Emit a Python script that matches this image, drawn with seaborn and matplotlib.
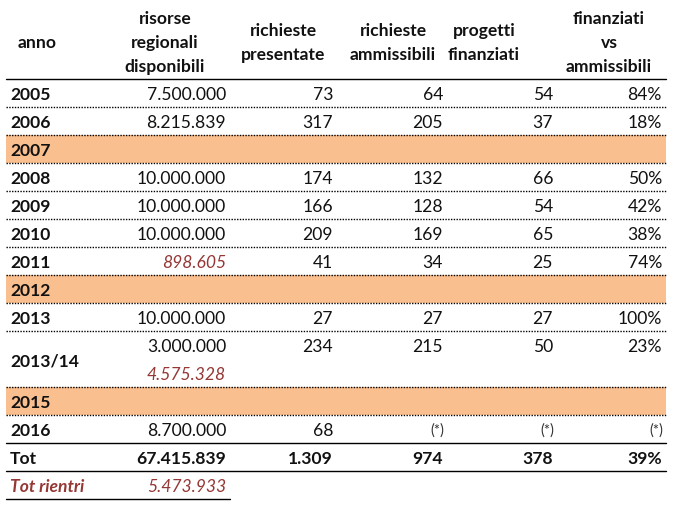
import matplotlib
matplotlib.use("Agg")
import matplotlib.pyplot as plt
import seaborn as sns
import numpy as np
from matplotlib.colors import ListedColormap

anni = ["2005", "2006", "2007", "2008", "2009", "2010", "2011", "2012",
        "2013", "2013/14", "2015", "2016"]
chiusi = [False, False, True, False, False, False, False, True,
          False, False, True, False]
risorse = [7500000, 8215839, None, 10000000, 10000000, 10000000, None, None,
           10000000, 3000000, None, 8700000]
rientri = [None, None, None, None, None, None, 898605, None,
           None, 4575328, None, None]
presentate = [73, 317, None, 174, 166, 209, 41, None, 27, 234, None, 68]
ammissibili = [64, 205, None, 132, 128, 169, 34, None, 27, 215, None, "(*)"]
finanziati = [54, 37, None, 66, 54, 65, 25, None, 27, 50, None, "(*)"]
perc = [84, 18, None, 50, 42, 38, 74, None, 100, 23, None, "(*)"]
altezza = [1, 1, 1, 1, 1, 1, 1, 1, 1, 2, 1, 1]

tot = [67415839, 1309, 974, 378, 39]
tot_rientri = 5473933

intestazioni = ["anno", "risorse\nregionali\ndisponibili", "richieste\npresentate",
                "richieste\nammissibili", "progetti\nfinanziati",
                "finanziati\nvs\nammissibili"]

ARANCIO = "#F9BF8F"
ROSSO = "#953735"
NERO = "#111111"
FS = 12.6


def fmt(v):
    return f"{v:,}".replace(",", ".")


sns.set_theme(style="white")
plt.rcParams["font.family"] = ["Lato", "DejaVu Sans"]

W, H = 674, 505
fig = plt.figure(figsize=(W / 100, H / 100), dpi=100)

# table geometry (pixels)
x0, x1 = 6, 666
top = 79
rh = 28
n_units = sum(altezza) + 2

# background bands for years without call (seaborn heatmap)
band = []
for c, h in zip(chiusi, altezza):
    band += [1 if c else 0] * h
band += [0, 0]
band = np.array(band).reshape(-1, 1)
bg = fig.add_axes([x0 / W, 1 - (top + n_units * rh) / H, (x1 - x0) / W, n_units * rh / H])
sns.heatmap(band, mask=band == 0, cmap=ListedColormap([ARANCIO]), cbar=False,
            xticklabels=False, yticklabels=False, ax=bg)
bg.axis("off")

ax = fig.add_axes([0, 0, 1, 1], facecolor="none")
ax.set_xlim(0, W)
ax.set_ylim(H, 0)
ax.axis("off")

# header
hx = [37, 165, 283, 393, 484, 609]
for x, t in zip(hx, intestazioni):
    ax.text(x, 43, t, ha="center", va="center", fontsize=FS, fontweight="bold",
            linespacing=1.62, color=NERO)
ax.plot([x0, x1], [top, top], color="black", lw=1)

col_r = [226, 333, 443, 553, 662]
dy = 2.5
y = top
for i, anno in enumerate(anni):
    h = altezza[i] * rh
    yc = y + h / 2 + dy
    ya = y + rh / 2 + dy
    ax.text(10, yc, anno, ha="left", va="center", fontsize=FS, fontweight="bold",
            color=NERO)
    if risorse[i] is not None:
        ax.text(col_r[0], ya, fmt(risorse[i]), ha="right", va="center", fontsize=FS,
                color=NERO)
    if rientri[i] is not None:
        yr = ya if risorse[i] is None else ya + rh
        ax.text(col_r[0], yr, fmt(rientri[i]), ha="right", va="center", fontsize=FS,
                style="italic", color=ROSSO)
    for j, serie in enumerate([presentate, ammissibili, finanziati, perc]):
        v = serie[i]
        if v is None:
            continue
        if v == "(*)":
            ax.text(col_r[j + 1] + 1, ya - 1, v, ha="right", va="center", fontsize=10.5,
                    color="#333333")
        else:
            s = f"{v}%" if j == 3 else fmt(v)
            ax.text(col_r[j + 1], ya, s, ha="right", va="center", fontsize=FS,
                    color=NERO)
    y += h
    if i < len(anni) - 1:
        ax.plot([x0, x1], [y, y], color="black", lw=1, ls=(0, (1, 1)))

# totals
ax.plot([x0, x1], [y, y], color="black", lw=1)
yc = y + rh / 2 + dy
ax.text(10, yc, "Tot", ha="left", va="center", fontsize=FS, fontweight="bold",
        color=NERO)
for j, v in enumerate(tot):
    s = f"{v}%" if j == 4 else fmt(v)
    ax.text(col_r[j], yc, s, ha="right", va="center", fontsize=FS, fontweight="bold",
            color=NERO)
y += rh
ax.plot([x0, x1], [y, y], color="black", lw=1)
yc = y + rh / 2 + dy
ax.text(10, yc, "Tot rientri", ha="left", va="center", fontsize=FS, fontweight="bold",
        style="italic", color=ROSSO)
ax.text(col_r[0], yc, fmt(tot_rientri), ha="right", va="center", fontsize=FS,
        style="italic", color=ROSSO)
y += rh
ax.plot([x0, 230], [y, y], color="black", lw=1)

fig.savefig("out.png", dpi=100)
plt.close(fig)
